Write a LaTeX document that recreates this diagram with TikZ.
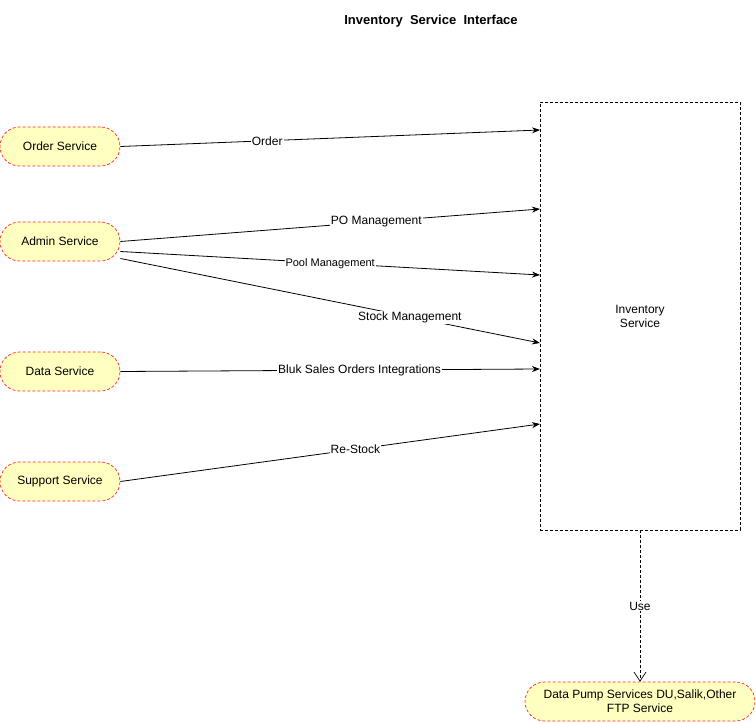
\documentclass[tikz,border=0pt]{standalone}
\usepackage{fontspec}
\setmainfont{Liberation Sans}
\usetikzlibrary{arrows.meta}
\definecolor{svcfill}{RGB}{255,255,192}
\definecolor{svcline}{RGB}{255,40,40}
\tikzset{
	svc/.style={draw=svcline, fill=svcfill, dash pattern=on 3pt off 2pt, line width=0.7pt,
		rounded corners=19.5pt, minimum width=120pt, minimum height=39pt,
		font=\fontsize{12}{14}\selectfont, align=center, inner sep=2pt},
	invbox/.style={draw, dash pattern=on 3pt off 2pt, line width=0.7pt,
		minimum width=200pt, minimum height=428pt, align=center,
		font=\fontsize{12}{14}\selectfont},
	flow/.style={line width=0.8pt, -{Stealth[length=8pt,width=6pt]}},
	lbl/.style={fill=white, inner sep=1pt, font=\fontsize{12}{14}\selectfont},
}

\begin{document}
\begin{tikzpicture}[x=1pt, y=-1pt]
		%%%%% START %%%%%
		
		\useasboundingbox (0, 0) rectangle (756, 722);
		
		\node[font=\bfseries\fontsize{13}{15}\selectfont] (title) at (431, 21) {Inventory\ \ Service\ \ Interface};
		
		\node[svc] (order) at (60, 146.5) {Order Service};
		\node[svc] (admin) at (60, 241.5) {Admin Service};
		\node[svc] (data) at (60, 371.5) {Data Service};
		\node[svc] (support) at (60, 481.5) {Support Service};
		
		\node[invbox] (inv) at (640, 316) {Inventory\\Service};
		\node[svc, minimum width=230pt] (pump) at (640, 701.5) {Data Pump Services DU,Salik,Other\\FTP Service};
		
		\coordinate (inOrder) at (540, 130);
		\coordinate (inPO) at (540, 209);
		\coordinate (inPool) at (540, 275);
		\coordinate (inStock) at (540, 343);
		\coordinate (inData) at (540, 369);
		\coordinate (inSupport) at (540, 424);
		
		\draw[flow] (order.east) -- (inOrder) node[lbl, pos=0.35] (lOrder) {Order};
		\draw[flow] (admin.east) -- (inPO) node[lbl, pos=0.61] (lPO) {PO Management};
		\draw[flow] ([yshift=-10pt]admin.east) -- (inPool) node[lbl, pos=0.5, font=\fontsize{11}{13}\selectfont] (lPool) {Pool Management};
		\draw[flow] ([yshift=-17pt]admin.east) -- (inStock) node[lbl, pos=0.69, yshift=-1pt] (lStock) {Stock Management};
		\draw[flow] (data.east) -- (inData) node[lbl, pos=0.57] (lData) {Bluk Sales Orders Integrations};
		\draw[flow] (support.east) -- (inSupport) node[lbl, pos=0.56] (lSupport) {Re-Stock};
		
		\draw[line width=0.7pt, dash pattern=on 3pt off 2pt, -{Straight Barb[length=9pt,width=12pt]}] (inv.south) -- (pump.north) node[lbl, pos=0.5] (lUse) {Use};
		
		%%%%% END %%%%%
	\end{tikzpicture}
\end{document}
